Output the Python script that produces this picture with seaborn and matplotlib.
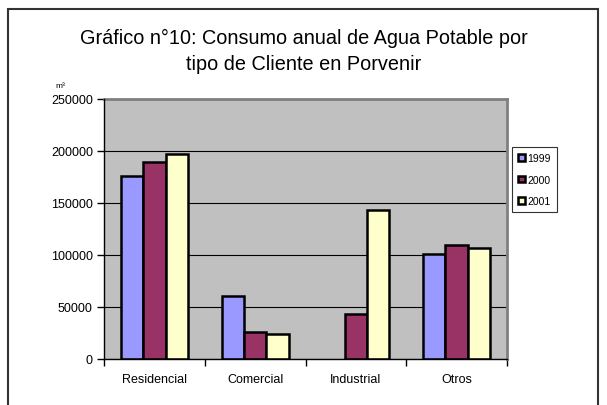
import matplotlib
matplotlib.use("Agg")
import matplotlib.pyplot as plt
import matplotlib.patches as mpatches
import seaborn as sns
import pandas as pd
import numpy as np

# data (m3 per year); no 1999 bar for Industrial
categories = ["Residencial", "Comercial", "Industrial", "Otros"]
years = ["1999", "2000", "2001"]
consumo_1999 = [176000, 61000, np.nan, 101000]
consumo_2000 = [189500, 26000, 43000, 109500]
consumo_2001 = [197000, 24000, 143000, 106500]
colors = ["#9999FF", "#993366", "#FFFFCC"]
y_ticks = [0, 50000, 100000, 150000, 200000, 250000]

rows = []
for year, vals in zip(years, [consumo_1999, consumo_2000, consumo_2001]):
    for cat, v in zip(categories, vals):
        rows.append({"Tipo": cat, "Año": year, "Consumo": v})
df = pd.DataFrame(rows)

sns.set_style("white")
plt.rcParams["font.family"] = ["Liberation Sans", "DejaVu Sans"]
plt.rcParams["text.color"] = "black"
plt.rcParams["xtick.color"] = "black"
plt.rcParams["ytick.color"] = "black"

fig = plt.figure(figsize=(6.07, 4.06), dpi=100)
ax = fig.add_axes([104 / 607, 46 / 406, 403 / 607, 260 / 406])

sns.barplot(data=df, x="Tipo", y="Consumo", hue="Año", order=categories,
            hue_order=years, palette=colors, width=0.667, saturation=1,
            edgecolor="black", linewidth=1.8, legend=False, ax=ax)

ax.set_facecolor("#C0C0C0")
ax.set_ylim(0, 250000)
ax.set_xlim(-0.5, 3.5)
ax.set_yticks(y_ticks)
ax.set_yticklabels([str(t) for t in y_ticks], fontsize=9)
ax.set_xticks(range(4))
ax.set_xticklabels(categories, fontsize=9)
ax.set_xticks([-0.5, 0.5, 1.5, 2.5, 3.5], minor=True)
ax.tick_params(axis="x", which="major", length=0, pad=10)
ax.tick_params(axis="x", which="minor", length=5, width=1, color="black", direction="out", bottom=True)
ax.tick_params(axis="y", length=5, width=1, color="black", direction="out", left=True, pad=3)
ax.set_xlabel("")
ax.set_ylabel("")
ax.set_axisbelow(True)
ax.yaxis.grid(True, color="black", linewidth=0.8)

for side in ["top", "right"]:
    ax.spines[side].set_color("#808080")
    ax.spines[side].set_linewidth(2)
for side in ["left", "bottom"]:
    ax.spines[side].set_color("black")
    ax.spines[side].set_linewidth(1)
    ax.spines[side].set_zorder(5)

handles = [mpatches.Patch(facecolor=c, edgecolor="black", linewidth=1.8, label=y)
           for c, y in zip(colors, years)]
leg = fig.legend(handles=handles, loc="upper left", bbox_to_anchor=(512 / 607, 1 - 148 / 406),
                 fontsize=7.5, frameon=True, fancybox=False, handlelength=0.6,
                 handleheight=0.6, handletextpad=0.3, labelspacing=1.1,
                 borderpad=0.6, borderaxespad=0)
leg.get_frame().set_edgecolor("black")
leg.get_frame().set_linewidth(0.8)

fig.text(0.5, 1 - 38 / 406, "Gráfico n°10: Consumo anual de Agua Potable por",
         ha="center", va="center", fontsize=14.3)
fig.text(0.5, 1 - 65 / 406, "tipo de Cliente en Porvenir",
         ha="center", va="center", fontsize=14.3)
fig.text(60 / 607, 1 - 86 / 406, "m³", ha="center", va="center", fontsize=6)

# outer chart border (bottom cut off by the image edge)
fig.patches.append(mpatches.Rectangle((8 / 607, -0.05), 590 / 607, 1 - 10 / 406 + 0.05,
                                      transform=fig.transFigure, fill=False,
                                      edgecolor="#333333", linewidth=1.5))

fig.savefig("out.png", dpi=100)
